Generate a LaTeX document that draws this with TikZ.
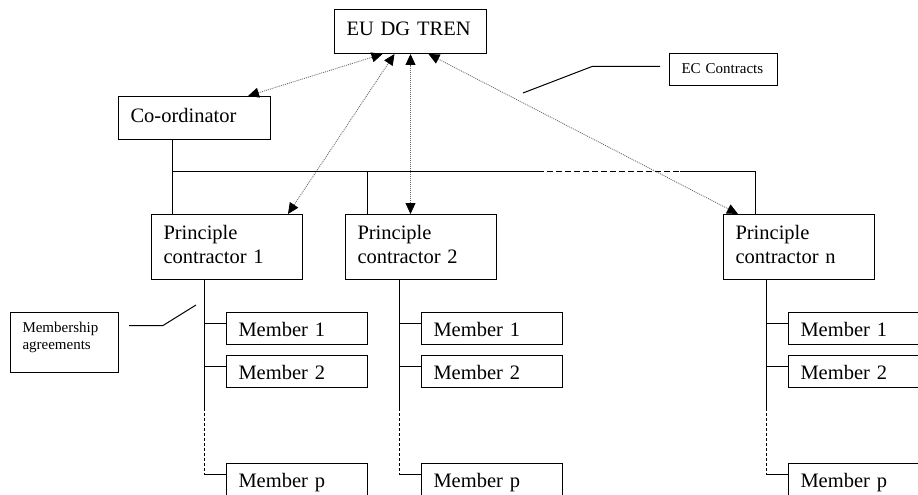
\documentclass[tikz,border=0pt]{standalone}
\usepackage{fontspec}
\setmainfont{Liberation Serif}
\usetikzlibrary{arrows.meta,calc}

\tikzset{
  box/.style={draw, line width=1pt, anchor=north west, align=left, inner xsep=12pt, inner ysep=0pt, font=\fontsize{20.5}{24}\selectfont},
  headbox/.style={box, text width=128pt},
  pcbox/.style={box, text width=127pt, minimum height=65pt, text depth=29pt},
  memberbox/.style={box, text width=117pt, minimum height=31.5pt, text height=16.5pt, text depth=0pt},
  notebox/.style={box, text width=84pt, font=\fontsize{15}{17}\selectfont},
  tree/.style={line width=1pt},
  link/.style={line width=0.8pt, black!60, dash pattern=on 1pt off 1pt,
    {Triangle[length=11pt,width=10pt,black]}-{Triangle[length=11pt,width=10pt,black]}},
}

\begin{document}
\begin{tikzpicture}[x=1pt,y=-1pt]
\useasboundingbox (0,0) rectangle (918,495);
\clip (0,0) rectangle (918,495);

\node[headbox, minimum height=44pt, text height=13.6pt, text depth=5.6pt] (eu) at (334,9) {EU DG TREN};
\node[headbox, minimum height=43pt, text height=14pt, text depth=5pt] (coord) at (118,96) {Co-ordinator};
\node[pcbox] (pc1) at (151,214) {Principle\\contractor 1};
\node[pcbox] (pc2) at (345,214) {Principle\\contractor 2};
\node[pcbox] (pcn) at (723,214) {Principle\\contractor n};
\node[notebox, minimum height=60pt, text depth=30pt] (agree) at (10,312) {Membership\\agreements};
\node[notebox, minimum height=32pt, text height=10pt, text depth=2pt] (ecc) at (669,53) {EC Contracts};

% contracts with the EU
\draw[link] ([xshift=-23pt]coord.north east) -- ([xshift=-28pt]eu.south);
\draw[link] ([xshift=-15pt]pc1.north east) -- ([xshift=-16pt]eu.south);
\draw[link] (eu.south |- pc2.north) -- (eu.south);
\draw[link] ([xshift=15pt]pcn.north west) -- ([xshift=18pt]eu.south);

% co-ordinator to principle contractors
\coordinate (j) at ([xshift=54pt]coord.south west);
\coordinate (k2) at ([xshift=22pt]pc2.north west);
\coordinate (kn) at ([xshift=32pt]pcn.north west);
\coordinate (g1) at (538,171);
\coordinate (g2) at (680,171);
\draw[tree] (j) -- (j |- pc1.north);
\draw[tree] (j |- g1) -- (g1);
\draw[tree, dash pattern=on 6pt off 3pt] (g1) -- (g2);
\draw[tree] (g2) -- (kn |- g2) -- (kn);
\draw[tree] (k2 |- g1) -- (k2);

% members
\foreach \col/\x in {1/226,2/421,n/788}{
  \node[memberbox] (mem-\col-1) at (\x,312) {Member 1};
  \node[memberbox] (mem-\col-2) at (\x,355) {Member 2};
  \node[memberbox] (mem-\col-p) at (\x,463) {Member p};
  \coordinate (e\col) at ([shift={(-21.5pt,4.5pt)}]mem-\col-p.west);
  \draw[tree] (e\col |- pc\col.south) -- (e\col |- 0,408);
  \draw[tree, dash pattern=on 3pt off 2pt] (e\col |- 0,408) -- (e\col);
  \foreach \k in {1,2,p}
    \draw[tree] ([yshift=4.5pt]mem-\col-\k.west) -- ++(-21.5,0);
}

% callouts
\coordinate (agreeend) at (196,305);
\draw[tree] ([shift={(10pt,17pt)}]agree.east) -- ++(34,0) -- (agreeend);
\coordinate (ecend) at (523,93);
\draw[tree] ([shift={(-9pt,3pt)}]ecc.west) -- ++(-68,0) -- (ecend);
\end{tikzpicture}
\end{document}
